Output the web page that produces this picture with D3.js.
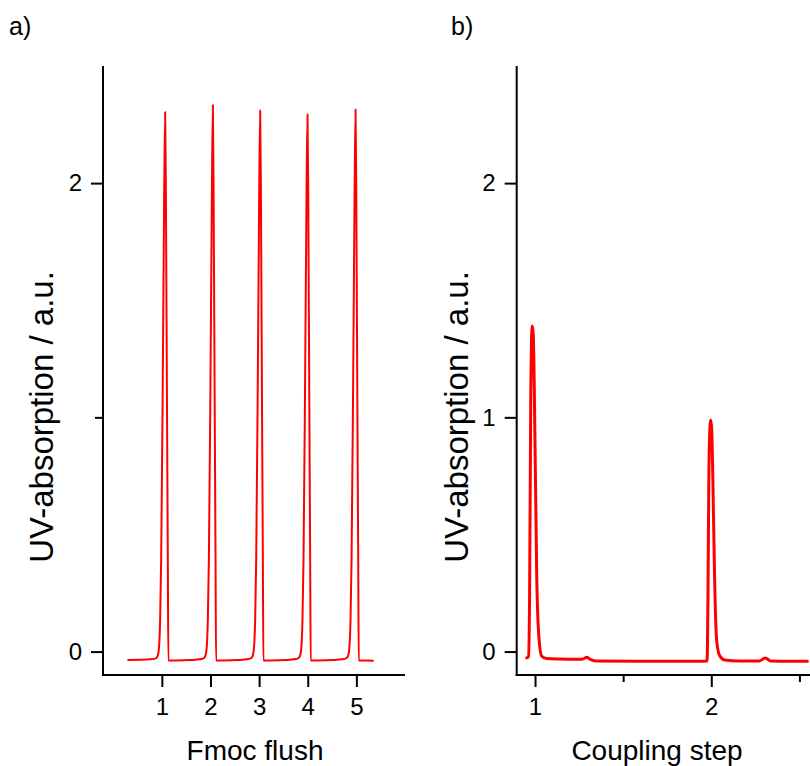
<!DOCTYPE html>
<html>
<head>
<meta charset="utf-8">
<script src="https://cdn.jsdelivr.net/npm/d3@7"></script>
<style>
  body { margin: 0; background: #fff; }
  svg { display: block; }
  text { font-family: "Liberation Sans", Arial, sans-serif; fill: #000; }
</style>
</head>
<body>
<svg id="chart" width="810" height="766"></svg>
<script>
// ---- Panel a: Fmoc deprotection flushes (UV trace) ----
const fmocX = [
  0.307, 0.759, 0.862, 0.903, 0.930, 0.951, 0.965, 0.986, 1.016, 1.047, 1.068, 1.084, 1.105, 1.123, 1.134,
  1.300, 1.600, 1.780,
  1.843, 1.884, 1.911, 1.932, 1.946, 1.967, 1.997, 2.028, 2.049, 2.065, 2.086, 2.104, 2.115,
  2.280, 2.580, 2.750,
  2.816, 2.857, 2.884, 2.905, 2.919, 2.940, 2.970, 3.001, 3.022, 3.038, 3.059, 3.077, 3.088,
  3.250, 3.550, 3.720,
  3.789, 3.830, 3.857, 3.878, 3.892, 3.913, 3.943, 3.974, 3.995, 4.011, 4.032, 4.050, 4.061,
  4.220, 4.520, 4.700,
  4.777, 4.818, 4.845, 4.866, 4.880, 4.901, 4.931, 4.962, 4.983, 4.999, 5.020, 5.038, 5.049,
  5.200, 5.340
];
const fmocY = [
  -0.036, -0.033, -0.030, -0.023, -0.004, 0.051, 0.136, 0.392, 1.075, 1.928, 2.304, 1.928, 1.075, 0.392, -0.038,
  -0.038, -0.036, -0.033,
  -0.030, -0.023, -0.004, 0.051, 0.136, 0.392, 1.075, 1.928, 2.334, 1.928, 1.075, 0.392, -0.038,
  -0.038, -0.036, -0.033,
  -0.030, -0.023, -0.004, 0.051, 0.136, 0.392, 1.075, 1.928, 2.310, 1.928, 1.075, 0.392, -0.038,
  -0.038, -0.036, -0.033,
  -0.030, -0.023, -0.004, 0.051, 0.136, 0.392, 1.075, 1.928, 2.294, 1.928, 1.075, 0.392, -0.038,
  -0.038, -0.036, -0.033,
  -0.030, -0.023, -0.004, 0.051, 0.136, 0.392, 1.075, 1.928, 2.314, 1.928, 1.075, 0.392, -0.038,
  -0.038, -0.039
];
const fmocTicks = [1, 2, 3, 4, 5];

// ---- Panel b: coupling steps (UV trace) ----
const couplingX = [
  0.953, 0.963, 0.969, 0.976, 0.980, 0.985, 0.990, 0.996, 1.010, 1.023, 1.038, 1.066, 1.141,
  1.250, 1.272, 1.293, 1.311, 1.345, 1.594, 1.934, 1.976,
  1.981, 1.986, 1.992, 1.996, 2.002, 2.009, 2.019, 2.030, 2.047, 2.075, 2.160,
  2.273, 2.307, 2.336, 2.443, 2.545
];
const couplingY = [
  -0.027, -0.021, 0.222, 1.117, 1.331, 1.390, 1.352, 1.117, 0.307, 0.051, -0.020, -0.030, -0.032,
  -0.033, -0.032, -0.024, -0.032, -0.040, -0.041, -0.041, -0.040,
  0.222, 0.733, 0.955, 0.989, 0.955, 0.733, 0.307, 0.051, -0.017, -0.036, -0.040,
  -0.040, -0.027, -0.040, -0.041, -0.041
];
const couplingTicks = [1, 2];
const couplingMinorTicks = [1.5, 2.5];

// shared value axis
const yTicksA = [0, 2];
const yMinorA = [1];
const yTicksB = [0, 1, 2];
const yDomain = [-0.1, 2.5];

const svg = d3.select("#chart");
const y = d3.scaleLinear().domain(yDomain).range([675, 66]);

function toPoints(xs, ys) { return xs.map((v, i) => [v, ys[i]]); }

function drawPanel(opts) {
  const { x, pts, xMajor, xMinor, yMajor, yMinor, xTitle, xTitleX, yTitleX, tag, tagX, lineW } = opts;
  const x0 = x.range()[0], x1 = x.range()[1];
  const g = svg.append("g");

  // axis lines
  g.append("line").attr("x1", x0).attr("x2", x0).attr("y1", 66).attr("y2", 676)
    .attr("stroke", "#000").attr("stroke-width", 2);
  g.append("line").attr("x1", x0 - 1).attr("x2", x1).attr("y1", 675).attr("y2", 675)
    .attr("stroke", "#000").attr("stroke-width", 2);

  // y ticks
  g.append("g").attr("transform", `translate(${x0},0)`)
    .call(d3.axisLeft(y).tickValues(yMajor).tickFormat(d3.format("d")).tickSize(12).tickPadding(9));
  if (yMinor.length) {
    g.append("g").attr("transform", `translate(${x0},0)`)
      .call(d3.axisLeft(y).tickValues(yMinor).tickFormat("").tickSize(8));
  }
  // x ticks
  g.append("g").attr("transform", "translate(0,675)")
    .call(d3.axisBottom(x).tickValues(xMajor).tickFormat(d3.format("d")).tickSize(12).tickPadding(11));
  if (xMinor.length) {
    g.append("g").attr("transform", "translate(0,675)")
      .call(d3.axisBottom(x).tickValues(xMinor).tickFormat("").tickSize(7));
  }
  g.selectAll(".domain").remove();
  g.selectAll(".tick line").attr("stroke", "#000").attr("stroke-width", 2);
  g.selectAll(".tick text").attr("font-size", 24).attr("font-family", "Liberation Sans, Arial, sans-serif").attr("fill", "#000");

  // trace
  const line = d3.line().x(d => x(d[0])).y(d => y(d[1])).curve(d3.curveMonotoneX);
  g.append("path").datum(pts).attr("d", line)
    .attr("fill", "none").attr("stroke", "#ff0000").attr("stroke-width", lineW)
    .attr("stroke-linejoin", "round").attr("stroke-linecap", "round");

  // titles
  g.append("text").attr("x", xTitleX).attr("y", 760).attr("text-anchor", "middle")
    .attr("font-size", 28).text(xTitle);
  g.append("text").attr("transform", `translate(${yTitleX},417) rotate(-90)`)
    .attr("text-anchor", "middle").attr("font-size", 33).text("UV-absorption / a.u.");
  g.append("text").attr("x", tagX).attr("y", 35).attr("font-size", 25).text(tag);
}

drawPanel({
  x: d3.scaleLinear().domain([-0.21, 6.0]).range([103, 405]),
  pts: toPoints(fmocX, fmocY),
  xMajor: fmocTicks, xMinor: [],
  yMajor: yTicksA, yMinor: yMinorA,
  xTitle: "Fmoc flush", xTitleX: 255, yTitleX: 53,
  tag: "a)", tagX: 9, lineW: 2
});

drawPanel({
  x: d3.scaleLinear().domain([0.896, 2.56]).range([516.7, 810]),
  pts: toPoints(couplingX, couplingY),
  xMajor: couplingTicks, xMinor: couplingMinorTicks,
  yMajor: yTicksB, yMinor: [],
  xTitle: "Coupling step", xTitleX: 657, yTitleX: 468,
  tag: "b)", tagX: 451, lineW: 3
});
</script>
</body>
</html>
